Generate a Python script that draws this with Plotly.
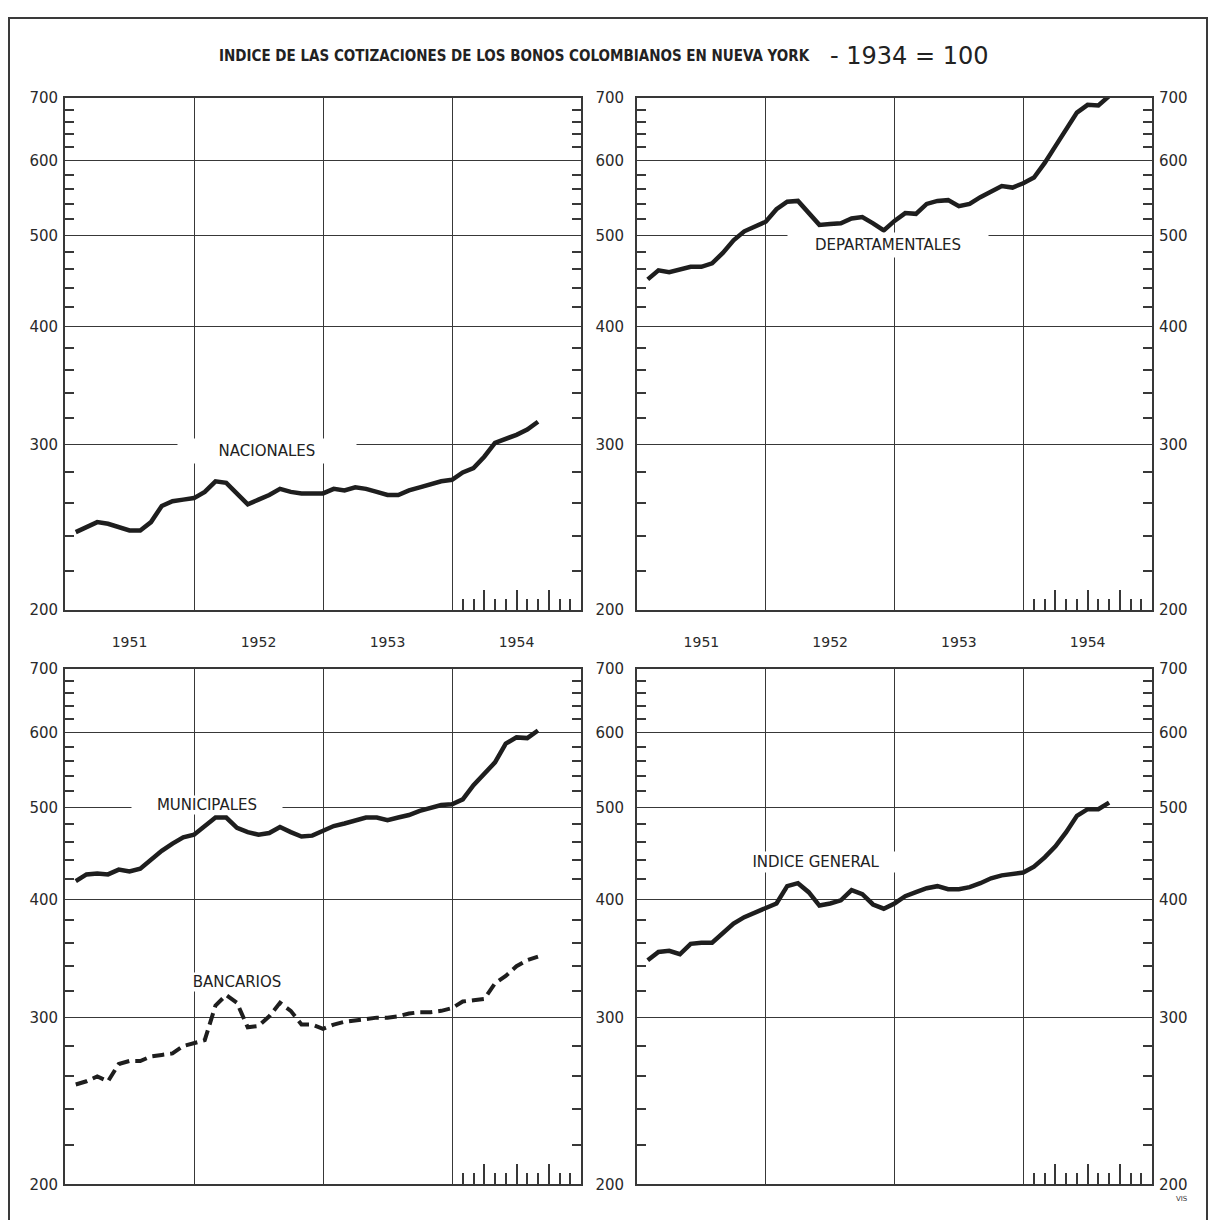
import math
import plotly.graph_objects as go

# ---------------- data (monthly index, Jan 1951 = 1 ... Aug 1954 = 44) ----------------
meses = list(range(1, 45))
anios = ["1951", "1952", "1953", "1954"]
anios_pos = [6, 18, 30, 42]
limites_anio = [12, 24, 36]
escala = [200, 300, 400, 500, 600, 700]
escala_txt = ["200", "300", "400", "500", "600", "700"]

nacionales = [242, 245, 248, 247, 245, 243, 243, 248, 258, 261,
              262, 263, 267, 274, 273, 266, 259, 262, 265, 269,
              267, 266, 266, 266, 269, 268, 270, 269, 267, 265,
              265, 268, 270, 272, 274, 275, 280, 283, 291, 301,
              304, 307, 311, 317]

departamentales = [449, 459, 457, 460, 463, 463, 467, 479, 494, 505,
                   511, 517, 533, 543, 544, 528, 513, 514, 515, 521,
                   523, 515, 506, 518, 528, 527, 540, 544, 545, 537,
                   540, 549, 557, 564, 562, 568, 576, 597, 622, 648,
                   675, 688, 687, 703]

municipales = [418, 425, 426, 425, 430, 428, 431, 441, 450, 458,
               465, 468, 478, 488, 488, 476, 471, 468, 470, 477,
               471, 466, 467, 473, 478, 481, 485, 488, 488, 485,
               488, 491, 496, 500, 503, 504, 510, 528, 542, 558,
               584, 593, 592, 603]

bancarios = [255, 257, 260, 257, 268, 270, 270, 273, 274, 275,
             280, 282, 284, 309, 317, 311, 293, 294, 301, 311,
             305, 295, 295, 292, 295, 297, 298, 299, 300, 300,
             301, 303, 304, 304, 305, 307, 312, 313, 314, 326,
             332, 340, 345, 348]

indice_general = [345, 352, 353, 350, 359, 360, 360, 368, 377, 383,
                  387, 391, 396, 413, 416, 407, 394, 396, 399, 409,
                  405, 395, 391, 396, 403, 407, 411, 413, 410, 410,
                  412, 416, 421, 424, 425, 427, 433, 443, 455, 471,
                  490, 498, 498, 506]

# ---------------- geometry (page pixels -> figure paper) ----------------
OFF = 8                      # default page margin of the html body
FW, FH = 1216 - 2 * OFF, 1228 - 2 * OFF


def px(xp):
    return (xp - OFF) / FW


def py(yp):
    return 1 - (yp - OFF) / FH


INK = "#1e1e1e"
GRID = "#383838"
TICKFONT = dict(family="DejaVu Sans, Verdana, sans-serif", size=15, color="#2a2a2a")
LABELFONT = dict(family="DejaVu Sans, Verdana, sans-serif", size=15, color="#222222")

DOM_X = {"L": [px(65), px(581)], "R": [px(637), px(1152)]}
DOM_Y = {"T": [py(610), py(90)], "B": [py(1193), py(670)]}
YR = [math.log10(200), math.log10(700)]
minor_y = [v for v in range(220, 700, 20) if v % 100 != 0]

fig = go.Figure()

panels = [(1, "L", "T"), (2, "R", "T"), (3, "L", "B"), (4, "R", "B")]

layout = dict(
    width=FW, height=FH,
    margin=dict(l=0, r=0, t=0, b=0),
    paper_bgcolor="white", plot_bgcolor="white",
    showlegend=False,
)

for idx, col, row in panels:
    xn = "x" if idx == 1 else f"x{idx}"
    yn = "y" if idx == 1 else f"y{idx}"
    xk = "xaxis" if idx == 1 else f"xaxis{idx}"
    yk = "yaxis" if idx == 1 else f"yaxis{idx}"
    ox = idx + 4  # overlay axes index

    layout[xk] = dict(
        domain=DOM_X[col], anchor=yn, range=[0, 48],
        tickmode="array", tickvals=anios_pos,
        ticktext=anios if row == "T" else ["", "", "", ""],
        ticks="", showgrid=False, zeroline=False,
        showline=True, mirror=True, linecolor=GRID, linewidth=1.7,
        tickfont=dict(family="DejaVu Sans, sans-serif", size=14, color="#2a2a2a"),
        ticklabelstandoff=18,
        minor=dict(tickmode="array", tickvals=limites_anio, showgrid=True,
                   gridcolor=GRID, gridwidth=1.4, ticks=""),
        fixedrange=True,
    )
    layout[yk] = dict(
        domain=DOM_Y[row], anchor=xn, type="log", range=YR,
        tickmode="array", tickvals=escala, ticktext=escala_txt,
        ticks="", showgrid=True, gridcolor=GRID, gridwidth=1.4,
        zeroline=False, showline=True, mirror=True, linecolor=GRID, linewidth=1.7,
        tickfont=TICKFONT, ticklabelstandoff=(2 if col == "L" else 8),
        minor=dict(tickmode="array", tickvals=minor_y, ticks="inside",
                   ticklen=9, tickwidth=1.5, tickcolor=GRID, showgrid=False),
        fixedrange=True,
    )
    # right-side y axis (ticks, and labels on the right-hand panels)
    layout[f"yaxis{ox}"] = dict(
        overlaying=yn, anchor=xn, side="right", type="log", range=YR,
        tickmode="array", tickvals=escala, ticktext=escala_txt,
        showticklabels=(col == "R"), ticks="", showgrid=False,
        zeroline=False, showline=False, tickfont=TICKFONT, ticklabelstandoff=6,
        minor=dict(tickmode="array", tickvals=minor_y, ticks="inside",
                   ticklen=9, tickwidth=1.5, tickcolor=GRID, showgrid=False),
        fixedrange=True,
    )
    # month ticks of 1954
    layout[f"xaxis{ox}"] = dict(
        overlaying=xn, anchor=yn, side="bottom", range=[0, 48],
        tickmode="array", tickvals=[39, 42, 45], ticks="inside", ticklen=20,
        tickwidth=1.6, tickcolor=GRID, showticklabels=False,
        showgrid=False, zeroline=False, showline=False,
        minor=dict(tickmode="array", tickvals=[37, 38, 40, 41, 43, 44, 46, 47],
                   ticks="inside", ticklen=11, tickwidth=1.6, tickcolor=GRID,
                   showgrid=False),
        fixedrange=True,
    )
    # an invisible point so that the overlay axes are drawn
    fig.add_trace(go.Scatter(x=[24], y=[300], mode="markers",
                             marker=dict(size=1, opacity=0), hoverinfo="skip",
                             xaxis=f"x{ox}", yaxis=f"y{ox}", showlegend=False))

solid = dict(color=INK, width=4.5)

fig.add_trace(go.Scatter(x=meses, y=nacionales, mode="lines", line=solid,
                         xaxis="x", yaxis="y", name="Nacionales"))
fig.add_trace(go.Scatter(x=meses, y=departamentales, mode="lines", line=solid,
                         xaxis="x2", yaxis="y2", name="Departamentales"))
fig.add_trace(go.Scatter(x=meses, y=municipales, mode="lines", line=solid,
                         xaxis="x3", yaxis="y3", name="Municipales"))
fig.add_trace(go.Scatter(x=meses, y=bancarios, mode="lines",
                         line=dict(color=INK, width=4, dash="12px,6px"),
                         xaxis="x3", yaxis="y3", name="Bancarios"))
fig.add_trace(go.Scatter(x=meses, y=indice_general, mode="lines", line=solid,
                         xaxis="x4", yaxis="y4", name="Indice general"))


def lab(text, x, y, xr, yr, w, h):
    return dict(text=text, x=x, y=math.log10(y), xref=xr, yref=yr,
                showarrow=False, font=LABELFONT, bgcolor="white",
                width=w, height=h, borderpad=0, align="center", valign="middle")


annotations = [
    lab("NACIONALES", 18.8, 295, "x", "y", 178, 24),
    lab("DEPARTAMENTALES", 23.4, 488, "x2", "y2", 200, 24),
    lab("MUNICIPALES", 13.2, 503, "x3", "y3", 150, 18),
    lab("BANCARIOS", 16.0, 327, "x3", "y3", 120, 18),
    lab("INDICE GENERAL", 16.7, 438, "x4", "y4", 160, 20),
    dict(text="<b>INDICE DE LAS COTIZACIONES DE LOS BONOS COLOMBIANOS EN NUEVA YORK</b>",
         x=px(812), y=py(48), xref="paper", yref="paper", xanchor="right",
         yanchor="middle", showarrow=False,
         font=dict(family="DejaVu Sans Condensed, Liberation Sans Narrow, sans-serif",
                   size=15, color="#222222")),
    dict(text="- 1934 = 100", x=px(828), y=py(48), xref="paper", yref="paper",
         xanchor="left", yanchor="middle", showarrow=False,
         font=dict(family="DejaVu Sans, sans-serif", size=24, color="#222222")),
    dict(text="VIS", x=px(1190), y=py(1214), xref="paper", yref="paper",
         showarrow=False, font=dict(family="DejaVu Sans, sans-serif", size=7, color="#333333")),
]
layout["annotations"] = annotations

layout["shapes"] = [
    dict(type="rect", xref="paper", yref="paper",
         x0=px(9), x1=px(1207), y0=-0.05, y1=py(9),
         line=dict(color="#3a3a3a", width=2), fillcolor="rgba(0,0,0,0)", layer="below"),
]

fig.update_layout(**layout)
fig.write_html("out.html", config={"displayModeBar": False})
